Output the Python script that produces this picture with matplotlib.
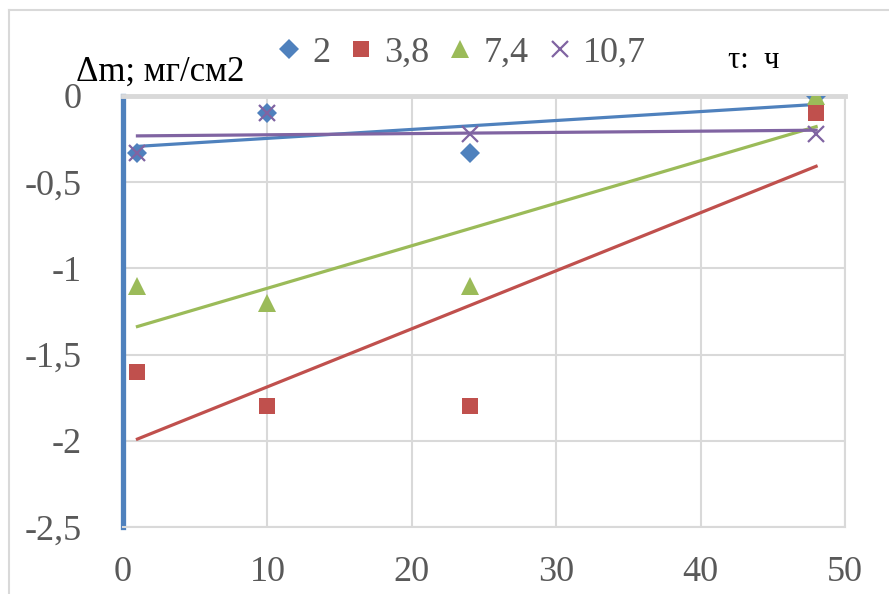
import matplotlib.pyplot as plt
import numpy as np
from matplotlib.lines import Line2D

plt.rcParams['font.family'] = ['Liberation Serif', 'DejaVu Serif']

# time, h
tau = [1, 10, 24, 48]
# mass change for each series, mg/cm2
dm_2 = [-0.33, -0.10, -0.33, 0.00]
dm_38 = [-1.60, -1.80, -1.80, -0.10]
dm_74 = [-1.10, -1.20, -1.10, 0.00]
dm_107 = [-0.33, -0.10, -0.22, -0.22]
series_names = ['2', '3,8', '7,4', '10,7']

x_ticks = [0, 10, 20, 30, 40, 50]
y_ticks = [0, -0.5, -1, -1.5, -2, -2.5]
y_tick_labels = ['0', '-0,5', '-1', '-1,5', '-2', '-2,5']

colors = ['#4F81BD', '#C0504D', '#9BBB59', '#8064A2']
markers = ['D', 's', '^', 'x']
msizes = [10, 12, 13, 11.5]
grid_c = '#d9d9d9'
text_c = '#595959'

fig = plt.figure(figsize=(8.89, 5.94), dpi=100)
ax = fig.add_axes([123 / 889, 1 - 527 / 594, 722 / 889, 431 / 594])

data = [dm_2, dm_38, dm_74, dm_107]
x = np.array(tau, dtype=float)
handles = []
for ys, c in zip(data, colors):
    ys = np.array(ys)
    # linear trend line over the measured range
    k, b = np.polyfit(x, ys, 1)
    ax.plot([x[0], x[-1]], [k * x[0] + b, k * x[-1] + b], color=c, lw=2.3,
            zorder=3)
for ys, c, m, ms in zip(data, colors, markers, msizes):
    if m == 'x':
        h, = ax.plot(x, ys, ls='none', marker=m, ms=ms, mew=1.6, color=c,
                     zorder=4)
    else:
        h, = ax.plot(x, ys, ls='none', marker=m, ms=ms, mew=0, color=c,
                     zorder=4)
    handles.append(h)

ax.set_xlim(0, 50)
ax.set_ylim(-2.5, 0)
ax.set_xticks(x_ticks)
ax.set_yticks(y_ticks)
ax.set_yticklabels(y_tick_labels)
ax.tick_params(length=0, labelsize=26, labelcolor=text_c)
ax.tick_params(axis='x', pad=21)
ax.tick_params(axis='y', pad=30)
ax.grid(True, color=grid_c, lw=1.5, zorder=0)
ax.set_axisbelow(True)

ax.spines['left'].set_color('#4F81BD')
ax.spines['left'].set_linewidth(3.8)
ax.spines['top'].set_color(grid_c)
ax.spines['top'].set_linewidth(3.5)
ax.spines['right'].set_color(grid_c)
ax.spines['right'].set_linewidth(1.5)
ax.spines['bottom'].set_color(grid_c)
ax.spines['bottom'].set_linewidth(1.5)

fig.legend(handles, series_names, loc='center', ncol=4,
           bbox_to_anchor=(462 / 889, 1 - 53 / 594), frameon=False,
           fontsize=26, labelcolor=text_c, handlelength=0.6,
           handletextpad=0.35, columnspacing=0.55, borderpad=0)

fig.text(76 / 889, 1 - 72 / 594, 'Δm; мг/см2', fontsize=25, color='black',
         va='center', ha='left')
fig.text(728 / 889, 1 - 60 / 594, 'τ:  ч', fontsize=22, color='black',
         va='center', ha='left')

# outer chart frame
fig.add_artist(Line2D([9 / 889, 9 / 889], [1 - 10 / 594, 0], color=grid_c,
                      lw=1.5, transform=fig.transFigure))
fig.add_artist(Line2D([9 / 889, 1], [1 - 10 / 594, 1 - 10 / 594],
                      color=grid_c, lw=1.5, transform=fig.transFigure))

fig.savefig('out.png', dpi=100)
